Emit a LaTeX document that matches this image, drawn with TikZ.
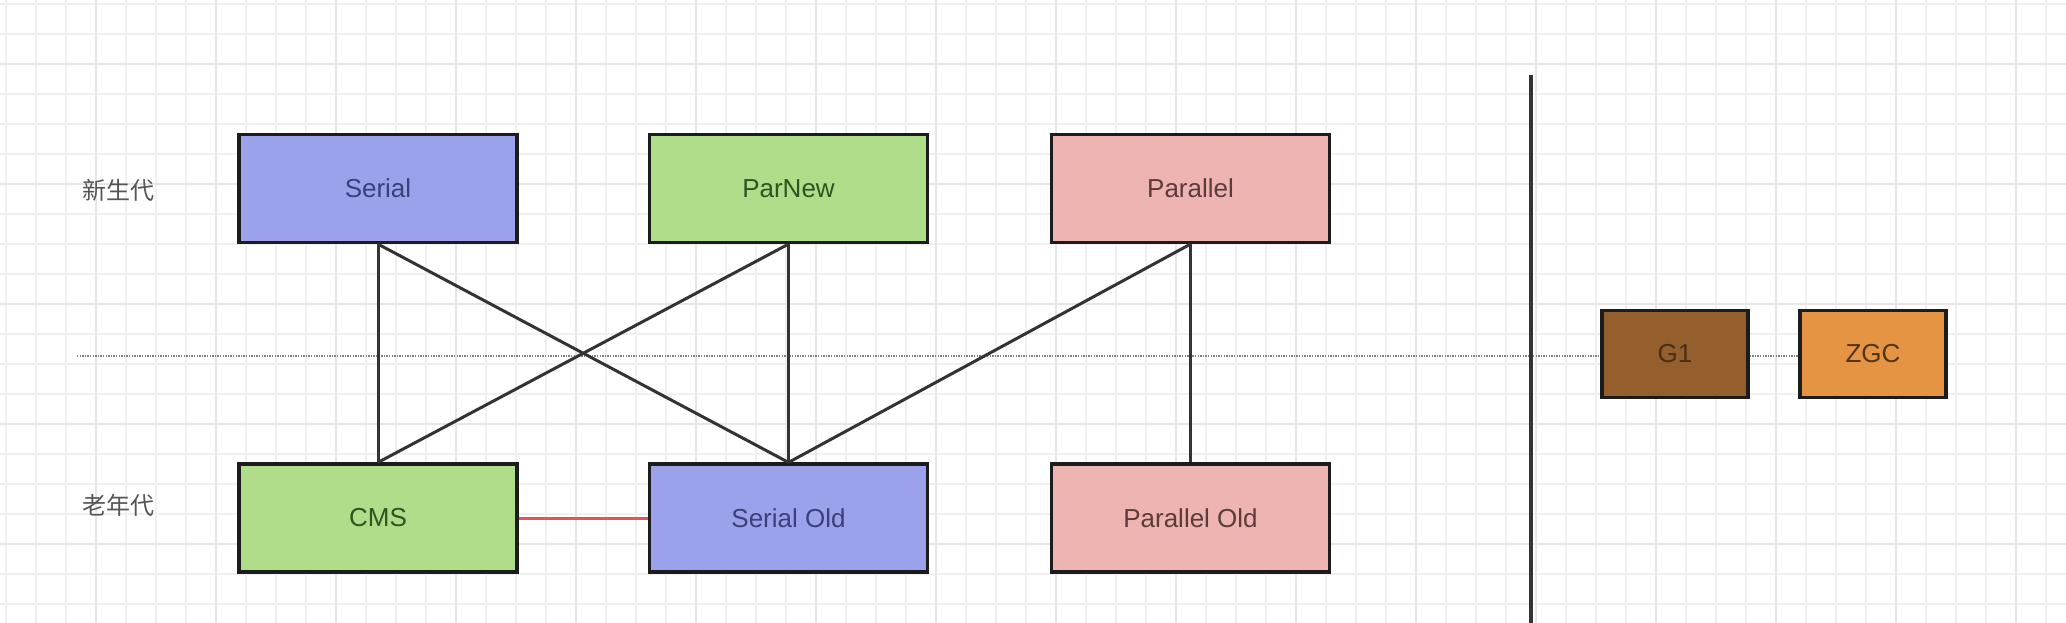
\documentclass[tikz,border=0pt]{standalone}
\usepackage{fontspec}
\setmainfont{Liberation Sans}
\newfontfamily\cjk{Noto Sans CJK SC}
\definecolor{gridminor}{HTML}{F0F0F0}
\definecolor{gridmajor}{HTML}{E6E6E6}
\definecolor{bluefill}{HTML}{9BA1EB}
\definecolor{bluetext}{HTML}{3B407A}
\definecolor{greenfill}{HTML}{AFDD8A}
\definecolor{greentext}{HTML}{2F5420}
\definecolor{pinkfill}{HTML}{EDB4B2}
\definecolor{pinktext}{HTML}{5E3B3B}
\definecolor{brownfill}{HTML}{955F2D}
\definecolor{browntext}{HTML}{4A2F17}
\definecolor{orangefill}{HTML}{E49442}
\definecolor{orangetext}{HTML}{523312}
\definecolor{edge}{HTML}{1C1C1C}
\definecolor{conn}{HTML}{333333}
\definecolor{labelgray}{HTML}{555555}
\definecolor{redline}{HTML}{E05555}
\tikzset{
  gcbox/.style={draw=edge, line width=3.2pt, rectangle, minimum width=278pt, minimum height=108pt, inner sep=0pt,
    font=\fontsize{26}{30}\selectfont},
  smallbox/.style={gcbox, minimum width=146pt, minimum height=87pt},
  conn/.style={draw=conn, line width=3pt},
  sep/.style={draw=conn, line width=3.2pt},
  dotline/.style={draw=gray, line width=1.3pt, dash pattern=on 1.3pt off 1.3pt},
  genlabel/.style={text=labelgray, font=\cjk\fontsize{24}{28}\selectfont, inner sep=0pt}
}
\begin{document}
\begin{tikzpicture}[x=1pt,y=-1pt]
\useasboundingbox (0,0) rectangle (2066,623);
\fill[white] (0,0) rectangle (2066,623);
% grid
\foreach \x in {6,36,...,2066} \draw[gridminor, line width=1.2pt] (\x,0) -- (\x,623);
\foreach \y in {4,34,...,623} \draw[gridminor, line width=1.2pt] (0,\y) -- (2066,\y);
\foreach \x in {96,216,...,2066} \draw[gridmajor, line width=1.4pt] (\x,0) -- (\x,623);
\foreach \y in {64,184,...,623} \draw[gridmajor, line width=1.4pt] (0,\y) -- (2066,\y);

% labels
\node[genlabel] (young) at (118,190) {新生代};
\node[genlabel] (old) at (118,505) {老年代};

% separator
\coordinate (septop) at (1531,75);
\coordinate (sepbot) at (1531,623);

% boxes
\node[gcbox, fill=bluefill, text=bluetext] (serial) at (378,188.5) {Serial};
\node[gcbox, fill=greenfill, text=greentext] (parnew) at (788.5,188.5) {ParNew};
\node[gcbox, fill=pinkfill, text=pinktext] (parallel) at (1190.5,188.5) {Parallel};
\node[gcbox, fill=greenfill, text=greentext] (cms) at (378,518) {CMS};
\node[gcbox, fill=bluefill, text=bluetext] (serialold) at (788.5,518) {Serial Old};
\node[gcbox, fill=pinkfill, text=pinktext] (parallelold) at (1190.5,518) {Parallel Old};
\node[smallbox, fill=brownfill, text=browntext] (g1) at (1675,354) {G1};
\node[smallbox, fill=orangefill, text=orangetext] (zgc) at (1873,354) {ZGC};

% dotted divider
\coordinate (dotstart) at (77,356);
\draw[dotline] (dotstart) -- (dotstart -| g1.west);
\draw[dotline] (g1.east |- dotstart) -- (zgc.west |- dotstart);

\draw[sep] (septop) -- (sepbot);

% connectors
\draw[conn] (serial.south) -- (cms.north);
\draw[conn] (serial.south) -- (serialold.north);
\draw[conn] (parnew.south) -- (cms.north);
\draw[conn] (parnew.south) -- (serialold.north);
\draw[conn] (parallel.south) -- (serialold.north);
\draw[conn] (parallel.south) -- (parallelold.north);
\draw[draw=redline, line width=3pt] (cms.east) -- (serialold.west);
\end{tikzpicture}
\end{document}
